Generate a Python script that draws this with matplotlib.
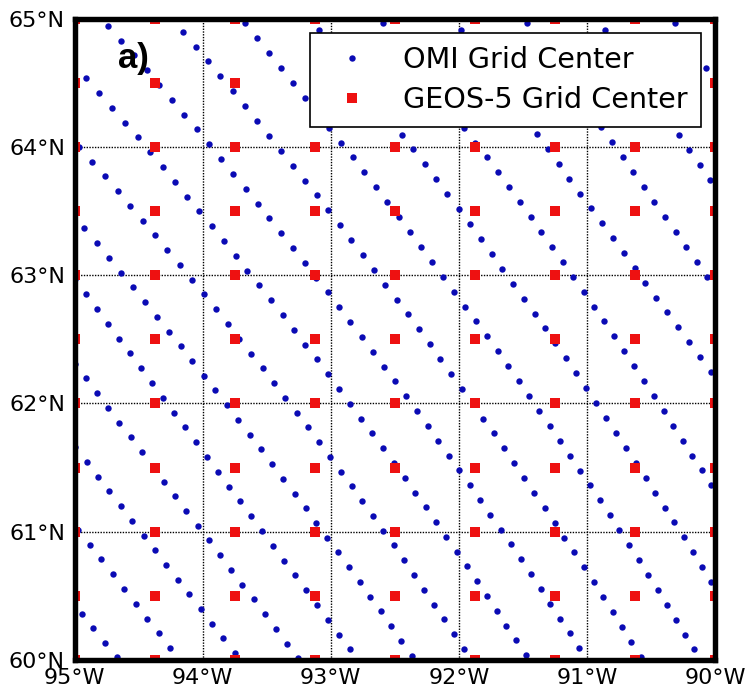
import numpy as np
import matplotlib
matplotlib.use("Agg")
import matplotlib.pyplot as plt

# ---- GEOS-5 grid centres (0.625 x 0.5 deg) ----
geos_lon = [-95.0, -94.375, -93.75, -93.125, -92.5, -91.875, -91.25, -90.625, -90.0]
geos_lat = [60.0, 60.5, 61.0, 61.5, 62.0, 62.5, 63.0, 63.5, 64.0, 64.5, 65.0]

# ---- OMI pixel tracks: dots (lon, lat) ----
track_lon = [
    [-94.945, -94.673],
    [-94.880, -94.523, -94.253],
    [-94.912, -94.3625, -93.753],
    [-94.482, -93.943, -93.258],
    [-93.964, -93.448, -92.849],
    [-94.933, -94.828, -93.453, -92.941, -92.367],
    [-94.969, -94.281, -93.019, -92.441, -91.956],
    [-94.912, -94.420, -93.839, -92.519, -92.021, -91.474],
    [-94.7375, -94.148, -93.297, -92.086, -91.599, -91.060],
    [-94.156, -93.670, -92.841, -91.581, -91.105, -90.578],
    [-93.675, -93.195, -92.386, -91.136, -90.675, -90.159],
    [-93.097, -92.445, -91.839, -90.623, -90.029],
    [-92.597, -91.956, -91.281, -90.180, -90.029],
    [-91.990, -91.386, -90.802],
    [-91.474, -90.875, -90.232],
    [-90.857, -90.277, -90.042],
    [-90.310, -90.070],
]
track_lat = [
    [60.360, 60.020],
    [60.899, 60.435, 60.092],
    [61.543, 60.854, 60.053],
    [61.621, 60.932, 60.012],
    [61.582, 60.885, 60.082],
    [63.364, 63.259, 61.523, 60.833, 60.035],
    [64.000, 63.207, 61.603, 60.782, 60.087],
    [64.534, 63.969, 63.278, 61.543, 60.846, 60.037],
    [64.944, 64.255, 63.220, 61.595, 60.911, 60.092],
    [64.897, 64.317, 63.285, 61.543, 60.846, 60.027],
    [64.963, 64.382, 63.342, 61.598, 60.899, 60.082],
    [64.910, 64.105, 63.290, 61.543, 60.607],
    [64.963, 64.151, 63.228, 61.598, 61.361],
    [64.910, 64.105, 63.288],
    [64.967, 64.156, 63.220],
    [64.910, 64.091, 63.740],
    [64.967, 64.612],
]
along_track_step = 0.1154   # deg lat between OMI pixels along a track

xticks = [-95, -94, -93, -92, -91, -90]
xlabels = ["95°W", "94°W", "93°W", "92°W", "91°W", "90°W"]
yticks = [60, 61, 62, 63, 64, 65]
ylabels = ["60°N", "61°N", "62°N", "63°N", "64°N", "65°N"]

# ---- OMI dots along each track ----
omi_lon, omi_lat = [], []
for lo, la in zip(track_lon, track_lat):
    lo = np.array(lo)
    la = np.array(la)
    span = la.max() - la.min()
    deg = 2 if span > 2.0 else 1
    fit = np.poly1d(np.polyfit(la, lo, deg))
    n = max(1, int(round(span / along_track_step)))
    step = span / n if span > 0 else along_track_step
    lats = la.min() + step * np.arange(-60, 61)
    lats = lats[(lats > 59.9) & (lats < 65.1)]
    lons = fit(lats)
    keep = (lons > -95.1) & (lons < -89.9)
    omi_lon.extend(lons[keep])
    omi_lat.extend(lats[keep])

glon, glat = np.meshgrid(geos_lon, geos_lat)

fig, ax = plt.subplots(figsize=(7.49, 6.94), dpi=100)
fig.subplots_adjust(left=0.0997, right=0.9546, bottom=0.049, top=0.9733)

ax.plot(omi_lon, omi_lat, "o", color="#0a0ab4", markersize=4.6,
        markeredgewidth=0, label="OMI Grid Center")
ax.plot(glon.ravel(), glat.ravel(), "s", color="#ee1111", markersize=6.6,
        markeredgewidth=0, label="GEOS-5 Grid Center")

ax.set_xlim(-95, -90)
ax.set_ylim(60, 65)
ax.set_xticks(xticks)
ax.set_xticklabels(xlabels)
ax.set_yticks(yticks)
ax.set_yticklabels(ylabels)
ax.tick_params(axis="both", length=0, labelsize=16)
ax.tick_params(axis="x", pad=5.5)
ax.tick_params(axis="y", pad=7)
ax.grid(True, color="k", linestyle=(0, (1, 1)), linewidth=1)
ax.set_axisbelow(True)
for s in ax.spines.values():
    s.set_linewidth(3.9)

leg = ax.legend(loc="upper right", numpoints=1, fontsize=20.6, fancybox=False,
                framealpha=1, edgecolor="k", labelspacing=0.42,
                borderaxespad=0.5, handletextpad=0.8, borderpad=0.45)
leg.get_frame().set_linewidth(1.2)

ax.text(0.068, 0.923, "a)", transform=ax.transAxes, fontsize=25,
        fontweight="bold", family="Liberation Sans", ha="left", va="baseline")

fig.savefig("out.png", dpi=100)
